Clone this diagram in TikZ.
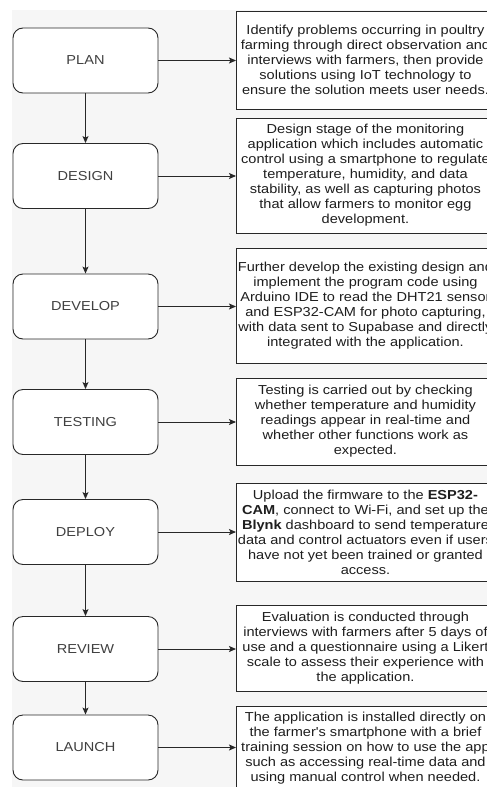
\documentclass[tikz,border=0pt]{standalone}
\usepackage{fontspec}
\setmainfont{Liberation Sans}
\newfontfamily\labelfont[FakeStretch=1.12]{Liberation Sans}
\usetikzlibrary{arrows.meta}
\definecolor{canvas}{RGB}{246,246,246}
\definecolor{edge}{RGB}{40,40,40}
\definecolor{ink}{RGB}{30,30,30}
\tikzset{
  phase/.style={draw=edge, line width=0.9pt, fill=white, rounded corners=10pt,
    minimum width=145pt, minimum height=65pt, inner sep=0pt,
    font=\labelfont\fontsize{13}{15}\selectfont, text=ink!85},
  info/.style={draw=edge, line width=0.9pt, fill=white, anchor=west,
    minimum width=258pt, inner sep=0pt, align=center, text=ink,
    font=\labelfont\fontsize{13}{15}\selectfont},
  flow/.style={draw=edge, line width=0.9pt, -{Stealth[length=7pt,width=6pt,inset=1.5pt]}}
}
\begin{document}
\begin{tikzpicture}[x=1pt,y=-1pt]
\useasboundingbox (0,0) rectangle (487,787);
\clip (0,0) rectangle (487,787);
\fill[canvas] (12,10) rectangle (487,787);

% process phases
\node[phase] (plan)    at (85.5,60.5) {PLAN};
\node[phase] (design)  at (85.5,176)  {DESIGN};
\node[phase] (develop) at (85.5,306.5){DEVELOP};
\node[phase] (testing) at (85.5,422)  {TESTING};
\node[phase] (deploy)  at (85.5,532)  {DEPLOY};
\node[phase] (review)  at (85.5,649)  {REVIEW};
\node[phase] (launch)  at (85.5,747.5){LAUNCH};

% descriptions
\node[info, minimum height=98pt] (planinfo) at (236,60) {Identify problems occurring in poultry\\farming through direct observation and\\interviews with farmers, then provide\\solutions using IoT technology to\\ensure the solution meets user needs.};
\node[info, minimum height=115pt] (designinfo) at (236,175.5) {Design stage of the monitoring\\application which includes automatic\\control using a smartphone to regulate\\temperature, humidity, and data\\stability, as well as capturing photos\\that allow farmers to monitor egg\\development.};
\node[info, minimum height=115pt] (developinfo) at (236,305.5) {Further develop the existing design and\\implement the program code using\\Arduino IDE to read the DHT21 sensor\\and ESP32-CAM for photo capturing,\\with data sent to Supabase and directly\\integrated with the application.};
\node[info, minimum height=87pt] (testinginfo) at (236,421.5) {Testing is carried out by checking\\whether temperature and humidity\\readings appear in real-time and\\whether other functions work as\\expected.};
\node[info, minimum height=98pt] (deployinfo) at (236,532) {Upload the firmware to the \textbf{ESP32-}\\\textbf{CAM}, connect to Wi-Fi, and set up the\\\textbf{Blynk} dashboard to send temperature\\data and control actuators even if users\\have not yet been trained or granted\\access.};
\node[info, minimum height=86pt] (reviewinfo) at (236,648) {Evaluation is conducted through\\interviews with farmers after 5 days of\\use and a questionnaire using a Likert\\scale to assess their experience with\\the application.};
\node[info, minimum height=84pt] (launchinfo) at (236,748) {The application is installed directly on\\the farmer's smartphone with a brief\\training session on how to use the app\\such as accessing real-time data and\\using manual control when needed.};

% sequence
\draw[flow] (plan) -- (design);
\draw[flow] (design) -- (develop);
\draw[flow] (develop) -- (testing);
\draw[flow] (testing) -- (deploy);
\draw[flow] (deploy) -- (review);
\draw[flow] (review) -- (launch);

% phase to description
\foreach \p in {plan,design,develop,testing,deploy,review,launch}
  \draw[flow] (\p.east) -- (\p.east -| \p info.west);
\end{tikzpicture}
\end{document}
